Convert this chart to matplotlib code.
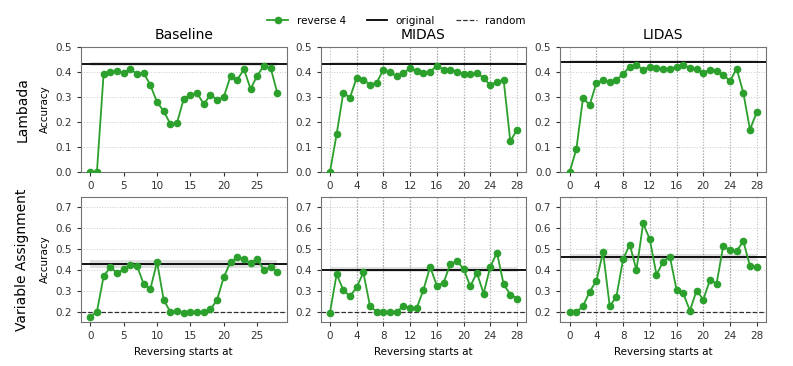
import matplotlib
matplotlib.use('Agg')
from matplotlib import pyplot as plt
import numpy as np

steps = list(range(29))
models = ["Baseline", "MIDAS", "LIDAS"]
tasks = ["Lambada", "Variable Assignment"]

# Lambada
lam_baseline = [0.0, 0.0, 0.392, 0.399, 0.405, 0.396, 0.411, 0.392, 0.396, 0.347,
                0.279, 0.243, 0.191, 0.197, 0.293, 0.307, 0.315, 0.271, 0.309, 0.288,
                0.301, 0.383, 0.368, 0.411, 0.332, 0.385, 0.425, 0.416, 0.316]
lam_midas = [0.0, 0.151, 0.316, 0.297, 0.377, 0.369, 0.349, 0.357, 0.409, 0.399,
             0.383, 0.395, 0.415, 0.404, 0.395, 0.400, 0.425, 0.409, 0.409, 0.401,
             0.392, 0.391, 0.396, 0.376, 0.347, 0.360, 0.368, 0.123, 0.169]
lam_lidas = [0.0, 0.091, 0.295, 0.268, 0.356, 0.367, 0.359, 0.367, 0.393, 0.420,
             0.428, 0.408, 0.421, 0.415, 0.413, 0.413, 0.419, 0.428, 0.415, 0.411,
             0.397, 0.408, 0.404, 0.388, 0.363, 0.413, 0.316, 0.169, 0.239]

# Variable Assignment
va_baseline = [0.176, 0.200, 0.369, 0.414, 0.385, 0.403, 0.422, 0.420, 0.332, 0.309,
               0.438, 0.256, 0.198, 0.205, 0.194, 0.200, 0.200, 0.197, 0.211, 0.258,
               0.367, 0.438, 0.460, 0.451, 0.433, 0.454, 0.399, 0.414, 0.388]
va_midas = [0.195, 0.380, 0.303, 0.274, 0.317, 0.388, 0.226, 0.200, 0.197, 0.197,
            0.198, 0.229, 0.218, 0.218, 0.306, 0.415, 0.325, 0.338, 0.427, 0.443,
            0.406, 0.322, 0.386, 0.287, 0.415, 0.483, 0.332, 0.282, 0.263]
va_lidas = [0.198, 0.198, 0.227, 0.296, 0.348, 0.486, 0.226, 0.272, 0.452, 0.522,
            0.399, 0.623, 0.547, 0.377, 0.440, 0.464, 0.306, 0.288, 0.205, 0.301,
            0.258, 0.351, 0.335, 0.517, 0.494, 0.491, 0.538, 0.419, 0.414]

reverse = [[lam_baseline, lam_midas, lam_lidas], [va_baseline, va_midas, va_lidas]]
original = [[0.432, 0.432, 0.440], [0.428, 0.401, 0.460]]
original_err = [[0.007, 0.006, 0.006], [0.018, 0.012, 0.015]]
random_acc = [0.0, 0.2]
ylims = [(0.0, 0.5), (0.15, 0.75)]

plt.rcParams['font.size'] = 7.5
fig, axes = plt.subplots(2, 3, figsize=(7.93, 3.66), dpi=100)
plt.subplots_adjust(left=0.102, right=0.966, top=0.872, bottom=0.12, wspace=0.165, hspace=0.2)

for r in range(2):
    for c in range(3):
        ax = axes[r][c]
        y = np.array(reverse[r][c])
        x = np.array(steps)
        ax.fill_between(x, y - 0.006, y + 0.006, color='#2ca02c', alpha=0.15, lw=0)
        ax.plot(x, y, color='#2ca02c', marker='o', ms=4.5, lw=1.3, label="reverse 4", zorder=3)
        m, s = original[r][c], original_err[r][c]
        ax.fill_between(x, m - s, m + s, color='0.6', alpha=0.3, lw=0)
        ax.axhline(m, color='k', lw=1.3, label="original")
        if r == 1:
            ax.axhline(random_acc[r], color='k', ls='--', lw=0.9, alpha=0.8, label="random")
        ax.set_ylim(*ylims[r])
        ax.grid(axis='y', ls=':', color='0.8', lw=0.7)
        if c == 0:
            ax.set_xticks([0, 5, 10, 15, 20, 25])
            ax.set_ylabel("Accuracy")
        else:
            ax.set_xticks(range(0, 29, 4))
            ax.grid(axis='x', ls=':', color='0.75', lw=0.8)
            for v in range(4, 28, 4):
                ax.axvline(v, color='0.35', ls=':', lw=0.8, zorder=1)
        if r == 0:
            ax.set_title(models[c], fontsize=10, pad=6)
        else:
            ax.set_xlabel("Reversing starts at")
        for sp in ax.spines.values():
            sp.set_color('0.45')
        ax.tick_params(colors='0.2', length=3)

fig.text(0.028, 0.70, tasks[0], rotation=90, ha='center', va='center', fontsize=10)
fig.text(0.028, 0.29, tasks[1], rotation=90, ha='center', va='center', fontsize=10)

h, l = axes[1][0].get_legend_handles_labels()
fig.legend(h, l, loc='center', bbox_to_anchor=(0.5, 0.943), ncol=3, frameon=False, fontsize=7.5)

plt.savefig("out.png")
plt.close()
